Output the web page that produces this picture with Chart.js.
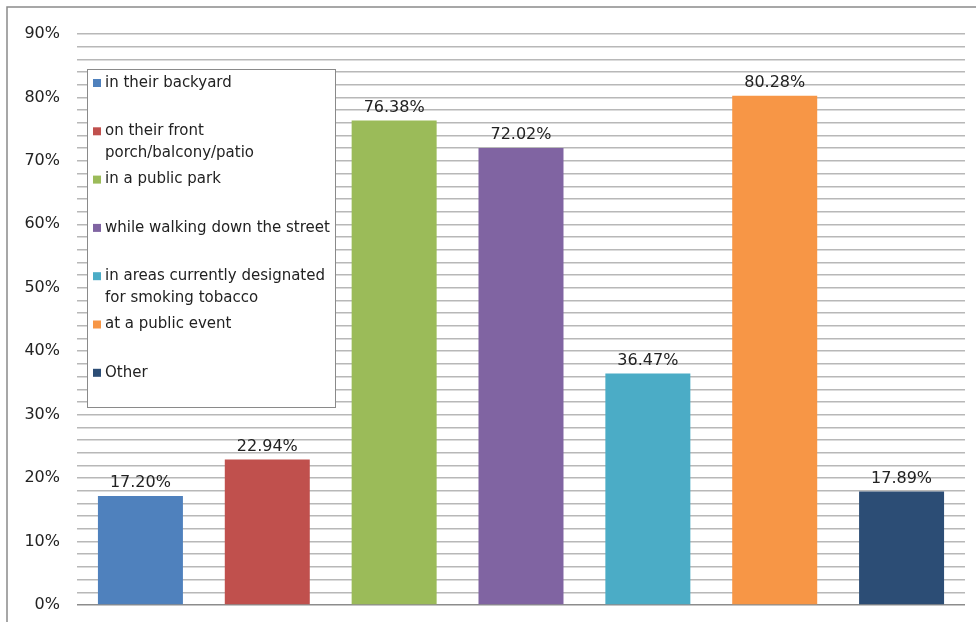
<!DOCTYPE html>
<html>
<head>
<meta charset="utf-8">
<script src="https://cdn.jsdelivr.net/npm/chart.js@4/dist/chart.umd.min.js"></script>
<style>
  html, body { margin: 0; padding: 0; background: #ffffff; }
  #wrap { width: 976px; height: 622px; position: relative; }
</style>
</head>
<body>
<div id="wrap"><canvas id="c" width="976" height="622"></canvas></div>
<script>
const categories = [
  "in their backyard",
  "on their front porch/balcony/patio",
  "in a public park",
  "while walking down the street",
  "in areas currently designated for smoking tobacco",
  "at a public event",
  "Other"
];
const values = [17.20, 22.94, 76.38, 72.02, 36.47, 80.28, 17.89];
const barColors = ["#4F81BD", "#C0504D", "#9BBB59", "#8064A2", "#4BACC6", "#F79646", "#2C4D75"];
const yTickLabels = ["0%", "10%", "20%", "30%", "40%", "50%", "60%", "70%", "80%", "90%"];

const FONT = '"DejaVu Sans", sans-serif';

const borderPlugin = {
  id: 'outerBorder',
  beforeDraw(chart) {
    const ctx = chart.ctx;
    ctx.save();
    ctx.strokeStyle = '#8a8a8a';
    ctx.lineWidth = 1.5;
    ctx.strokeRect(7, 7, 1200, 1200);
    ctx.restore();
  }
};

const valueLabels = {
  id: 'valueLabels',
  afterDatasetsDraw(chart) {
    const ctx = chart.ctx;
    const meta = chart.getDatasetMeta(0);
    ctx.save();
    ctx.font = '16px ' + FONT;
    ctx.fillStyle = '#222222';
    ctx.textAlign = 'center';
    ctx.textBaseline = 'middle';
    meta.data.forEach((bar, i) => {
      ctx.fillText(values[i].toFixed(2) + '%', bar.x, bar.y - 13);
    });
    ctx.restore();
  }
};

function wrap(ctx, text, maxW) {
  const words = text.split(' ');
  const lines = [];
  let cur = '';
  words.forEach(w => {
    const t = cur ? cur + ' ' + w : w;
    if (ctx.measureText(t).width > maxW && cur) { lines.push(cur); cur = w; }
    else cur = t;
  });
  if (cur) lines.push(cur);
  return lines;
}

const boxLegend = {
  id: 'boxLegend',
  afterDraw(chart) {
    const ctx = chart.ctx;
    const x0 = 87, y0 = 69, w = 248, h = 338;
    ctx.save();
    ctx.fillStyle = '#ffffff';
    ctx.fillRect(x0, y0, w, h);
    ctx.strokeStyle = '#8a8a8a';
    ctx.lineWidth = 1;
    ctx.strokeRect(x0 + 0.5, y0 + 0.5, w, h);
    ctx.font = '15px ' + FONT;
    ctx.textBaseline = 'middle';
    ctx.textAlign = 'left';
    const slot = 48.3;
    categories.forEach((c, i) => {
      const y = 83 + i * slot;
      ctx.fillStyle = barColors[i];
      ctx.fillRect(93, y - 4, 8, 8);
      ctx.fillStyle = '#222222';
      const lines = wrap(ctx, c, 228);
      lines.forEach((ln, j) => ctx.fillText(ln, 105, y + j * 22));
    });
    ctx.restore();
  }
};

new Chart(document.getElementById('c'), {
  type: 'bar',
  data: {
    labels: categories,
    datasets: [{
      data: values,
      backgroundColor: barColors,
      borderWidth: 0,
      barPercentage: 0.67,
      categoryPercentage: 1.0
    }]
  },
  options: {
    responsive: false,
    animation: false,
    devicePixelRatio: 1,
    layout: { padding: { top: 34, bottom: 17, right: 11, left: 0 } },
    plugins: { legend: { display: false }, tooltip: { enabled: false } },
    scales: {
      x: { display: false },
      y: {
        min: 0, max: 90,
        afterFit(scale) {
          scale.width = 77;
          scale.paddingTop = 0;
          scale.paddingBottom = 0;
        },
        border: { display: false },
        grid: {
          drawTicks: false,
          color: ctx => (ctx.tick && ctx.tick.value === 0) ? '#8c8c8c' : '#b8b8b8',
          lineWidth: 1.5
        },
        ticks: {
          stepSize: 2,
          autoSkip: false,
          padding: 17,
          color: '#222222',
          font: { family: FONT, size: 16 },
          callback: v => (v % 10 === 0) ? yTickLabels[v / 10] : ''
        }
      }
    }
  },
  plugins: [borderPlugin, valueLabels, boxLegend]
});
</script>
</body>
</html>
